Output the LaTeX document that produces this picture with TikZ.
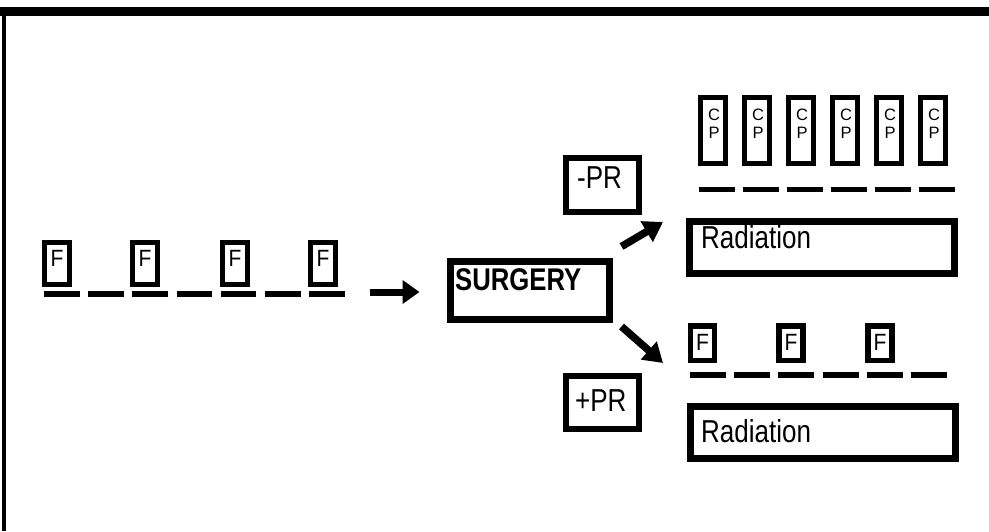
\documentclass[tikz,border=0pt]{standalone}
\usepackage{graphicx}
\usepackage{fontspec}
\setmainfont{Liberation Sans}
\usetikzlibrary{arrows.meta,calc}
\newcommand{\tallt}[1]{\scalebox{1}[1.22]{#1}}
\newcommand{\tallf}[1]{\scalebox{1}[1.12]{#1}}
\tikzset{
  fbox/.style={draw, line width=5pt, inner sep=0pt, minimum width=25pt, minimum height=42pt,
    font=\fontsize{21}{22}\selectfont, text height=16pt, text depth=11pt},
  fboxlow/.style={draw, line width=5.5pt, inner sep=0pt, minimum width=24pt, minimum height=34.5pt,
    font=\fontsize{21}{22}\selectfont, text height=16pt, text depth=2pt},
  cpbox/.style={draw, line width=4.8pt, inner sep=0pt, minimum width=25.5pt, minimum height=66.5pt},
  cptext/.style={inner sep=0pt, font=\fontsize{16.5}{18}\selectfont},
  bigbox/.style={draw, line width=7pt, inner sep=0pt},
  lbl/.style={anchor=west, inner sep=0pt, font=\fontsize{26}{30}\selectfont, text height=22pt, text depth=0pt},
  blbl/.style={lbl, font=\bfseries\fontsize{25.7}{30}\selectfont},
  dashrow/.style={line width=6pt},
  bigarrow/.style={line width=7pt, -{Triangle[length=17pt,width=23pt]}},
  diagarrow/.style={line width=7.5pt, -{Triangle[length=19pt,width=23pt]}}
}
\begin{document}
\begin{tikzpicture}[x=1pt,y=-1pt]
\useasboundingbox (0,0) rectangle (989,531);
% frame
\fill[black] (0,7) rectangle (989,16);
\fill[black] (2,7) rectangle (6,531);

% left F row
\foreach \i/\x in {1/57,2/145,3/235,4/323}{
  \node[fbox] (fl\i) at (\x,263.5) {\tallf{F}};
}
\draw[dashrow, dash pattern=on 35.5pt off 8.7pt] (44,293.5) -- (345,293.5);

% arrow to surgery
\node[bigbox, minimum width=159pt, minimum height=58pt] (surgery) at (530,290.5) {};
\node[blbl] (surgeryt) at (455,279.5) {\tallt{SURGERY}};
\coordinate (a1s) at (370,292);
\draw[bigarrow] (a1s) -- ($(surgery.west)+(-27.5,1.5)$);

% -PR / +PR
\node[bigbox, line width=6pt, minimum width=73pt, minimum height=54pt] (mpr) at (602.5,185) {};
\node[lbl] (mprt) at (577,177) {\tallt{-PR}};
\node[bigbox, line width=6pt, minimum width=73pt, minimum height=53pt] (ppr) at (602.5,402.5) {};
\node[lbl] (pprt) at (575,400) {\tallt{+PR}};

% CP boxes
\foreach \i in {0,...,5}{
  \node[cpbox] (cp\i) at ({713+44*\i},130.5) {};
  \node[cptext, anchor=base] (cpc\i) at ({714+44*\i},120) {C};
  \node[cptext, anchor=base] (cpp\i) at ({714+44*\i},138) {P};
}
\draw[dashrow, line width=5.5pt, dash pattern=on 36pt off 8pt] (699,189.5) -- (956,189.5);

% Radiation boxes
\node[bigbox, minimum width=265pt, minimum height=52pt] (rad1) at (822,247.5) {};
\node[lbl] (rad1t) at (701,237.5) {\tallt{Radiation}};
\node[bigbox, minimum width=265pt, minimum height=52pt] (rad2) at (823,432.5) {};
\node[lbl] (rad2t) at (701,431) {\tallt{Radiation}};

% lower F row
\foreach \i/\x in {1/702.5,2/791,3/880}{
  \node[fboxlow] (fr\i) at (\x,343) {\tallf{F}};
}
\draw[dashrow, dash pattern=on 36pt off 8.2pt] (690,375) -- (947,375);

% diagonal arrows
\coordinate (upend) at (663,222);
\coordinate (downend) at (663,363);
\draw[diagarrow] ($(surgery.north east)+(8.5,-11.5)$) -- (upend);
\draw[diagarrow] ($(surgery.south east)+(8.5,3.5)$) -- (downend);
\end{tikzpicture}
\end{document}
